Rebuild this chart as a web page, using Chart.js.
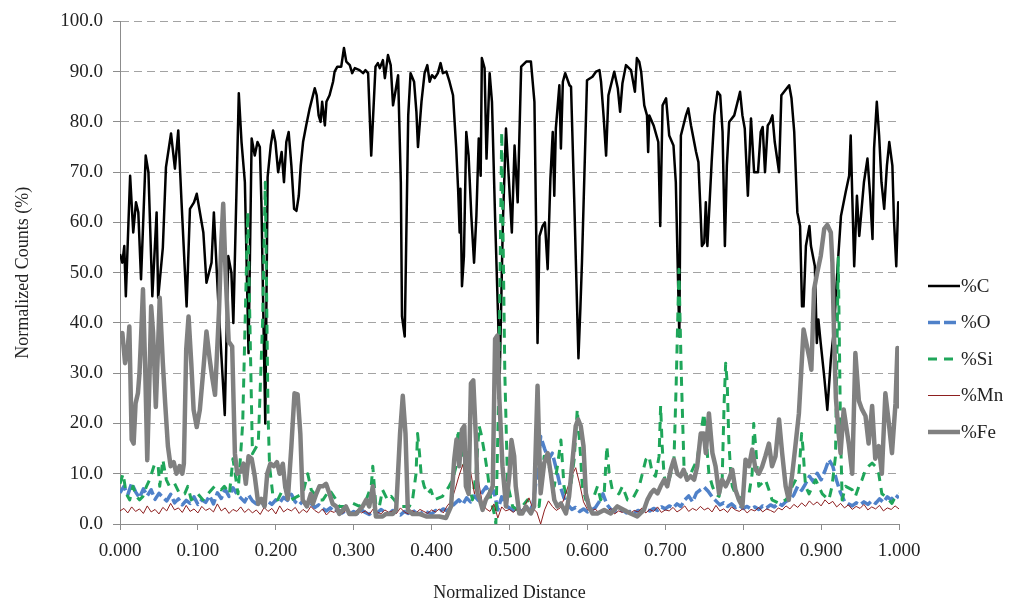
<!DOCTYPE html>
<html>
<head>
<meta charset="utf-8">
<title>Normalized Counts vs Normalized Distance</title>
<script src="https://cdn.jsdelivr.net/npm/chart.js@4.4.1/dist/chart.umd.min.js"></script>
<style>
  html, body { margin: 0; padding: 0; background: #fff; }
  canvas { display: block; }
</style>
</head>
<body>
<canvas id="profileChart" width="1034" height="606"></canvas>
<script>
// Line-scan composition profile: normalized counts of each element along the scan.

// %C
const cDist = [
  0, 0.003, 0.0055, 0.0075, 0.013, 0.017, 0.0205, 0.0235, 0.027, 0.033,
  0.0365, 0.0415, 0.047, 0.049, 0.055, 0.059, 0.0655, 0.0705, 0.0748, 0.079,
  0.0855, 0.0898, 0.095, 0.0985, 0.107, 0.111, 0.1175, 0.1205, 0.126, 0.1345,
  0.139, 0.143, 0.1455, 0.1525, 0.156, 0.1603, 0.165, 0.169, 0.173, 0.1765,
  0.1795, 0.1815, 0.1865, 0.1895, 0.1935, 0.1965, 0.1995, 0.203, 0.2075, 0.2105,
  0.2135, 0.2165, 0.22, 0.2235, 0.2265, 0.2295, 0.232, 0.235, 0.239, 0.2435,
  0.25, 0.2525, 0.255, 0.2575, 0.2595, 0.263, 0.265, 0.269, 0.2735, 0.2755,
  0.279, 0.284, 0.2875, 0.2905, 0.295, 0.298, 0.3015, 0.3075, 0.312, 0.315,
  0.3185, 0.3225, 0.328, 0.331, 0.3335, 0.3375, 0.34, 0.344, 0.3475, 0.3505,
  0.3535, 0.357, 0.3605, 0.362, 0.3655, 0.37, 0.373, 0.3775, 0.3805, 0.3825,
  0.387, 0.391, 0.3945, 0.3975, 0.4005, 0.404, 0.408, 0.4115, 0.4145, 0.419,
  0.423, 0.4275, 0.4315, 0.434, 0.436, 0.437, 0.439, 0.4415, 0.4445, 0.4475,
  0.451, 0.4545, 0.4575, 0.4605, 0.463, 0.4645, 0.468, 0.4705, 0.4745, 0.4775,
  0.4815, 0.4875, 0.4915, 0.4955, 0.503, 0.5065, 0.5105, 0.515, 0.5215, 0.5275,
  0.532, 0.534, 0.536, 0.5385, 0.5425, 0.5455, 0.549, 0.5525, 0.5555, 0.5575,
  0.5595, 0.564, 0.566, 0.5685, 0.5715, 0.577, 0.579, 0.583, 0.5885, 0.591,
  0.593, 0.5995, 0.6065, 0.611, 0.6155, 0.6175, 0.621, 0.624, 0.627, 0.6345,
  0.639, 0.642, 0.645, 0.6495, 0.656, 0.661, 0.6635, 0.6665, 0.669, 0.673,
  0.6765, 0.678, 0.6795, 0.685, 0.691, 0.6935, 0.6965, 0.701, 0.705, 0.7105,
  0.7135, 0.718, 0.72, 0.7265, 0.7295, 0.733, 0.7395, 0.7425, 0.745, 0.747,
  0.75, 0.752, 0.754, 0.7595, 0.763, 0.767, 0.7705, 0.7735, 0.7765, 0.779,
  0.782, 0.7885, 0.796, 0.799, 0.802, 0.806, 0.81, 0.814, 0.819, 0.8225,
  0.825, 0.828, 0.8315, 0.8345, 0.8375, 0.8405, 0.846, 0.849, 0.856, 0.859,
  0.862, 0.8655, 0.8695, 0.873, 0.8755, 0.8775, 0.8805, 0.885, 0.887, 0.892,
  0.8945, 0.8965, 0.8995, 0.904, 0.908, 0.9125, 0.9165, 0.921, 0.9255, 0.9315,
  0.936, 0.938, 0.94, 0.9425, 0.946, 0.949, 0.955, 0.9595, 0.963, 0.966,
  0.968, 0.9715, 0.9745, 0.9775, 0.981, 0.9845, 0.9875, 0.9915, 0.9935, 0.9965,
  0.999, 1.0
];
const cPct = [
  53.7, 52, 55.3, 45.3, 69.3, 58, 64, 62, 48.7, 73.3,
  70, 45.3, 62, 45, 55, 71, 77.7, 70.7, 78.3, 64,
  43.3, 62.7, 64, 65.7, 58, 48, 52, 62, 44.7, 21.7,
  53.3, 50, 40, 85.7, 76, 68, 34, 76.7, 73.3, 76,
  75, 64, 20, 69, 75.3, 78.3, 76, 70, 74, 68,
  76, 78, 71.3, 62.7, 62.3, 65.3, 71.3, 76, 79.3, 82.7,
  86.7, 85.3, 81.3, 80, 84, 79.3, 84, 85.3, 88, 90,
  91, 91, 94.7, 92, 91.3, 89.7, 90.7, 90.3, 89.7, 90.3,
  89.7, 73.3, 91, 91.7, 90.7, 92.3, 88.7, 93.3, 91.3, 83.3,
  86, 89.3, 68, 41.3, 37.3, 81.3, 89.7, 88, 82, 75,
  84, 89.7, 91.3, 88, 89.3, 88.7, 89.7, 91.7, 89.7, 90,
  88, 85.3, 75, 66.7, 58, 66.7, 47.3, 53.3, 78, 73.3,
  61.3, 52, 61.3, 76.7, 69.3, 92.7, 90.7, 72.7, 89.7, 84,
  61, 30, 60, 78.7, 58, 75.3, 64, 91, 92, 92,
  84, 61.3, 36, 57.3, 59.3, 60, 50.7, 68.7, 78, 65.3,
  78.7, 87.3, 74.7, 88, 89.7, 87.3, 87, 65, 33, 43,
  52, 88.3, 89, 90, 90.3, 88, 80.7, 73.3, 85.3, 90,
  86.7, 82, 87.7, 91.3, 90.3, 86, 92.7, 92, 90, 83.3,
  81.3, 74, 81.3, 79.3, 76, 59.3, 83.3, 84.7, 77.3, 75.3,
  68, 37.3, 77.3, 81.3, 82.7, 79.3, 74, 72, 63, 55.3,
  56, 64, 55.3, 72, 81.3, 86, 85.3, 78, 55.3, 71.3,
  80, 81.3, 86, 81.3, 78.7, 65.3, 80.7, 70, 70, 78,
  79, 70, 79.3, 80, 81.3, 76, 70, 85.3, 86.7, 87.3,
  84.7, 78, 62, 59.3, 43.3, 43.3, 55.3, 59.3, 55.3, 51.3,
  36, 40.7, 36, 29.3, 22.7, 32.7, 38.7, 50.7, 61.3, 66,
  69.3, 77.3, 65.3, 51.3, 65.3, 57.3, 68, 72.7, 65.3, 56.7,
  74.7, 84, 77.3, 68, 62.7, 71.3, 76, 71.3, 60.7, 51.3,
  64, 63
];

// %Fe
const feDist = [
  0, 0.003, 0.0065, 0.01, 0.012, 0.015, 0.0175, 0.02, 0.023, 0.025,
  0.027, 0.0295, 0.0325, 0.035, 0.038, 0.04, 0.0425, 0.046, 0.049, 0.051,
  0.055, 0.058, 0.0615, 0.065, 0.069, 0.0725, 0.0765, 0.08, 0.082, 0.085,
  0.088, 0.0915, 0.0945, 0.0985, 0.1025, 0.107, 0.111, 0.115, 0.1185, 0.122,
  0.127, 0.13, 0.1325, 0.1355, 0.1395, 0.144, 0.1475, 0.1505, 0.155, 0.1585,
  0.1615, 0.165, 0.169, 0.173, 0.1775, 0.1815, 0.1855, 0.189, 0.193, 0.1975,
  0.2015, 0.205, 0.209, 0.212, 0.2155, 0.22, 0.224, 0.228, 0.2315, 0.2345,
  0.24, 0.245, 0.2475, 0.252, 0.256, 0.2605, 0.2645, 0.269, 0.273, 0.2775,
  0.2815, 0.286, 0.29, 0.2945, 0.299, 0.303, 0.3075, 0.3115, 0.316, 0.32,
  0.3245, 0.3285, 0.333, 0.337, 0.3415, 0.346, 0.35, 0.3545, 0.3595, 0.363,
  0.3665, 0.3695, 0.3755, 0.3845, 0.393, 0.4015, 0.41, 0.4185, 0.425, 0.429,
  0.432, 0.4355, 0.439, 0.442, 0.444, 0.4475, 0.4505, 0.4535, 0.457, 0.459,
  0.462, 0.4655, 0.4695, 0.474, 0.4785, 0.4815, 0.4845, 0.487, 0.491, 0.4955,
  0.5, 0.5025, 0.506, 0.508, 0.5125, 0.5165, 0.521, 0.5275, 0.5315, 0.536,
  0.538, 0.54, 0.5445, 0.549, 0.553, 0.5575, 0.5615, 0.566, 0.5725, 0.5765,
  0.581, 0.585, 0.588, 0.5915, 0.595, 0.598, 0.602, 0.6065, 0.613, 0.6215,
  0.63, 0.6385, 0.647, 0.6555, 0.664, 0.6725, 0.677, 0.6815, 0.6855, 0.69,
  0.694, 0.6985, 0.7025, 0.707, 0.711, 0.7155, 0.7195, 0.7235, 0.728, 0.7325,
  0.737, 0.741, 0.7455, 0.7495, 0.752, 0.756, 0.7605, 0.7645, 0.769, 0.773,
  0.7775, 0.7815, 0.786, 0.79, 0.7945, 0.799, 0.803, 0.8075, 0.8115, 0.816,
  0.82, 0.8245, 0.8285, 0.833, 0.837, 0.8415, 0.846, 0.85, 0.8545, 0.8585,
  0.863, 0.867, 0.8715, 0.8775, 0.881, 0.885, 0.8875, 0.891, 0.895, 0.8995,
  0.904, 0.908, 0.9125, 0.9145, 0.9165, 0.919, 0.9225, 0.925, 0.929, 0.9355,
  0.94, 0.944, 0.9485, 0.9525, 0.957, 0.961, 0.9655, 0.9695, 0.974, 0.978,
  0.9825, 0.987, 0.991, 0.9955, 0.998, 1.0
];
const fePct = [
  37, 38, 32, 35, 39.3, 16.8, 16, 24, 26, 30,
  37, 46.7, 30, 12.7, 30, 43.3, 38, 23.3, 36, 45,
  32, 24, 15.5, 11.5, 12.3, 10, 11.5, 10, 12, 34.7,
  41.3, 32, 22.7, 19.3, 22.7, 30.7, 38.3, 33, 29, 25.7,
  42, 56, 63.7, 50, 36.3, 35.3, 14, 10, 10.5, 12,
  8, 13.5, 13, 9.5, 4, 5, 3.5, 10, 12, 11.5,
  12.3, 10, 12, 7.5, 5, 15.5, 26, 25.8, 18, 4.8,
  3.5, 6, 4, 6, 7.5, 7.5, 8, 6, 4, 3.5,
  2, 2.8, 3.5, 2, 2, 2, 2.8, 3.5, 4.8, 3.5,
  7.5, 1.5, 1.5, 1.5, 2, 2, 2, 2.8, 18, 25.5,
  18, 2.8, 2, 2, 1.5, 1.5, 1.5, 1.2, 3.5, 12.8,
  16.8, 11.5, 18.8, 19.5, 7.5, 6, 28, 28.6, 16.8, 6,
  4.8, 2.8, 4.8, 6, 7.5, 36.8, 37.5, 24.8, 11.5, 3.5,
  10, 16.7, 13.5, 7.5, 2.1, 2.1, 3.5, 2.1, 3.5, 27.5,
  16, 6.1, 12.1, 14.1, 10, 4.8, 3.5, 4.1, 2.1, 5.5,
  12.8, 19.5, 20.8, 19.5, 15.5, 6.1, 3.5, 2.1, 2.1, 2.8,
  2.1, 3.5, 2.8, 2.1, 1.5, 2.8, 4.8, 6.1, 6.8, 6.1,
  7.5, 8.8, 7.5, 10.8, 12.8, 10, 9.5, 10.8, 8.8, 9.5,
  8.8, 11.5, 18, 18, 14.1, 22, 14.1, 11.5, 6.1, 8.8,
  7.5, 8.8, 10.8, 6.8, 4.8, 3.5, 12.8, 11.5, 14.8, 10.8,
  10, 11.5, 13.5, 16, 11.5, 13.5, 20.8, 14.1, 7.5, 4.8,
  10, 15.5, 22, 38.7, 36, 33, 30.7, 46.7, 50, 53.3,
  58.7, 59.5, 58, 52, 38, 25, 18, 14.1, 22.8, 16,
  10, 34, 24.5, 22.8, 21.5, 16, 23.5, 13, 15.5, 10,
  26, 20, 14.1, 24, 35, 23
];

// %Si
const siDist = [
  0, 0.004, 0.008, 0.0125, 0.0165, 0.021, 0.025, 0.0295, 0.034, 0.038,
  0.0445, 0.049, 0.051, 0.055, 0.0595, 0.0635, 0.07, 0.0765, 0.083, 0.087,
  0.0915, 0.1, 0.1065, 0.113, 0.1215, 0.13, 0.134, 0.1405, 0.145, 0.1515,
  0.1575, 0.164, 0.17, 0.1775, 0.183, 0.1865, 0.19, 0.192, 0.196, 0.2025,
  0.211, 0.2195, 0.228, 0.2345, 0.241, 0.2455, 0.256, 0.2605, 0.269, 0.2775,
  0.2815, 0.29, 0.299, 0.3075, 0.316, 0.3225, 0.3245, 0.3285, 0.333, 0.337,
  0.3435, 0.348, 0.352, 0.3585, 0.3715, 0.3755, 0.38, 0.382, 0.3845, 0.3865,
  0.3905, 0.395, 0.399, 0.4035, 0.414, 0.4225, 0.427, 0.4315, 0.434, 0.4355,
  0.44, 0.444, 0.4485, 0.4525, 0.457, 0.461, 0.4635, 0.4675, 0.472, 0.476,
  0.4805, 0.4825, 0.486, 0.49, 0.494, 0.4975, 0.504, 0.5105, 0.5165, 0.523,
  0.5275, 0.5315, 0.538, 0.5445, 0.549, 0.553, 0.5575, 0.5615, 0.566, 0.57,
  0.5745, 0.5785, 0.583, 0.587, 0.5915, 0.5935, 0.598, 0.6085, 0.613, 0.617,
  0.6215, 0.625, 0.628, 0.632, 0.6405, 0.645, 0.6515, 0.6575, 0.6665, 0.6705,
  0.675, 0.679, 0.6835, 0.6875, 0.692, 0.694, 0.696, 0.6985, 0.7025, 0.707,
  0.711, 0.714, 0.7175, 0.7205, 0.724, 0.7285, 0.7325, 0.737, 0.741, 0.7455,
  0.7495, 0.752, 0.756, 0.7605, 0.7645, 0.769, 0.773, 0.7755, 0.7775, 0.7795,
  0.7815, 0.784, 0.786, 0.79, 0.7945, 0.799, 0.8075, 0.8115, 0.8135, 0.816,
  0.818, 0.82, 0.8285, 0.833, 0.837, 0.846, 0.8545, 0.8585, 0.863, 0.8715,
  0.875, 0.8765, 0.88, 0.8845, 0.893, 0.9015, 0.91, 0.914, 0.9185, 0.922,
  0.925, 0.927, 0.9315, 0.94, 0.944, 0.9485, 0.9525, 0.957, 0.961, 0.9655,
  0.9695, 0.974, 0.978, 0.9825, 0.987, 0.991, 0.9955, 1.0
];
const siPct = [
  8, 10, 6, 4.8, 7.5, 5.5, 4.8, 5.5, 7.5, 8.8,
  12, 11.5, 7.5, 12.8, 8.8, 7.5, 8.1, 6, 6, 7.5,
  4.8, 6, 4.8, 6, 7.5, 6.8, 7.5, 6, 13, 6,
  20, 62, 14, 16, 40, 68, 22, 11.5, 6, 4.8,
  7.5, 4.8, 5.5, 6, 10, 6.8, 4.8, 4.8, 6.8, 4.8,
  3.5, 3.5, 4.1, 3.5, 4.8, 7.5, 11.5, 3.5, 3.5, 6.8,
  4.8, 5.5, 4.8, 3.5, 3.5, 4.8, 10, 18, 14, 10,
  7.5, 6, 6.8, 4.8, 5.5, 7.5, 8.8, 11.5, 18.8, 16.8,
  12.8, 10, 7.5, 4.8, 10, 19.5, 18, 14.5, 10, 4.8,
  2, 0, 25, 78, 30, 8, 3.5, 2.8, 3.5, 4.8,
  2.1, 3.5, 3.5, 13.5, 12.8, 10, 7.5, 11.5, 16.7, 7.5,
  4.8, 7.5, 12.8, 22.8, 12.8, 7.5, 4.8, 5.5, 7.5, 4.8,
  6, 15.5, 10, 6.8, 6, 7.5, 4.8, 4.8, 7.5, 10,
  12.8, 13.5, 10, 9.5, 13.5, 23.5, 15.5, 9.5, 7.5, 10,
  12, 28, 50.7, 30, 11.5, 8.8, 10, 11.5, 12.8, 18,
  22, 18, 10, 7.5, 6, 5.5, 8.8, 24, 32, 28,
  16.8, 10, 7.5, 6, 4.8, 5.5, 6, 10, 20, 15.5,
  10.8, 7.5, 8.8, 6.8, 4.8, 4.1, 4.8, 5.5, 7.5, 10,
  18, 15.5, 7.5, 6, 8.8, 6, 4.8, 7.5, 13.5, 53,
  18, 4.8, 7.5, 6.8, 5.5, 7.5, 8.8, 10.8, 11.5, 12.1,
  11.5, 10, 6, 5.5, 4.8, 4.1, 5.5, 6
];

// %O and %Mn, sampled every 0.005 of the scan
const oPct = [
  6.2, 7.5, 5.8, 8.1, 6.4, 5.2, 7.0, 5.6, 6.8, 4.9, 6.1,
  5.3, 4.6, 5.9, 4.2, 5.0, 3.8, 4.7, 4.1, 5.4, 3.9,
  4.8, 4.3, 5.6, 4.0, 6.2, 5.1, 6.9, 5.5, 7.2, 6.0,
  5.2, 4.4, 5.8, 4.6, 4.0, 4.9, 3.6, 4.5, 3.9, 4.8,
  4.2, 5.3, 4.7, 5.9, 4.4, 3.8, 4.6, 3.5, 4.1, 3.3,
  3.8, 3.1, 2.6, 3.2, 2.4, 2.9, 2.2, 2.7, 2.0, 2.5,
  2.1, 2.8, 2.3, 1.9, 2.6, 2.2, 2.9, 2.4, 2.0, 2.7,
  2.3, 1.8, 2.5, 2.1, 2.8, 2.2, 1.9, 2.6, 2.3, 2.0,
  2.7, 2.4, 3.0, 2.6, 3.4, 4.1, 4.8, 3.9, 5.2, 4.4,
  5.6, 4.7, 6.3, 7.4, 5.9, 6.6, 2.8, 5.4, 3.6, 3.2,
  2.7, 3.3, 2.5, 3.0, 2.4, 3.8, 9.5, 17.4, 15.0, 12.8,
  14.1, 11.0, 7.6, 5.2, 3.8, 2.9, 3.3, 2.5, 3.0, 2.4,
  2.8, 3.2, 4.4, 6.0, 3.9, 2.9, 2.6, 2.3, 2.8, 2.2,
  2.5, 2.1, 2.7, 2.4, 2.9, 2.6, 3.1, 2.7, 3.4, 3.0,
  3.6, 3.2, 4.0, 3.5, 4.8, 5.6, 4.4, 6.2, 6.8, 7.3,
  6.5, 5.4, 4.6, 3.8, 4.2, 3.5, 4.0, 3.3, 3.7, 3.1,
  3.5, 3.0, 3.4, 2.9, 3.6, 3.2, 3.8, 3.4, 4.1, 3.7,
  4.5, 4.9, 5.8, 7.5, 6.7, 8.0, 9.5, 8.4, 10.1, 8.8,
  10.6, 12.8, 11.5, 8.6, 6.2, 4.5, 4.0, 3.6, 4.2, 3.8,
  4.4, 3.9, 4.6, 4.1, 5.0, 4.3, 5.4, 4.8, 5.8, 5.2
];
const mnPct = [
  2.6, 3.1, 2.2, 3.4, 2.5, 3.0, 2.1, 3.6, 2.4, 2.9, 2.0,
  3.3, 2.6, 4.1, 2.8, 3.2, 2.3, 3.7, 2.5, 3.0, 2.2,
  3.5, 2.7, 3.1, 2.4, 4.0, 2.6, 3.2, 2.1, 2.9, 2.5,
  3.4, 2.3, 3.0, 2.2, 2.8, 1.9, 3.3, 2.5, 3.1, 2.0,
  3.6, 2.4, 3.0, 2.6, 3.3, 2.1, 2.9, 2.3, 3.5, 2.7,
  2.2, 3.0, 1.8, 2.6, 2.3, 3.1, 2.0, 2.7, 2.4, 2.1,
  2.9, 2.2, 2.6, 1.9, 3.0, 2.4, 2.0, 2.8, 2.3, 2.6,
  2.1, 3.2, 2.4, 2.0, 2.7, 2.2, 2.9, 2.5, 2.1, 2.8,
  2.4, 3.0, 2.2, 3.6, 4.5, 6.8, 9.5, 11.8, 8.2, 10.5,
  6.0, 8.8, 4.2, 3.0, 2.5, 4.0, 1.2, 3.4, 2.6, 2.9,
  2.3, 3.1, 2.5, 3.8, 5.2, 3.0, 2.4, 0.0, 2.8, 4.6,
  3.5, 2.7, 3.2, 5.0, 7.4, 9.6, 11.2, 8.0, 4.4, 2.9,
  2.5, 3.0, 2.2, 2.8, 2.4, 3.1, 2.0, 2.6, 2.3, 2.9,
  2.1, 2.7, 2.4, 3.2, 2.2, 2.9, 2.5, 3.4, 2.3, 2.8,
  2.6, 3.3, 2.4, 2.9, 3.6, 2.5, 3.1, 2.7, 3.5, 2.8,
  3.2, 2.4, 3.7, 2.6, 3.0, 2.3, 3.4, 2.8, 2.5, 3.1,
  2.2, 2.9, 2.6, 3.3, 2.4, 3.0, 2.7, 2.3, 3.2, 2.8,
  3.6, 3.0, 3.9, 3.3, 4.2, 3.5, 4.6, 3.8, 4.4, 3.6,
  4.8, 4.0, 4.5, 3.4, 4.1, 3.2, 3.8, 2.9, 3.5, 3.1,
  3.9, 2.8, 3.4, 3.0, 3.7, 2.6, 3.2, 2.9, 3.6, 3.0
];
const sampleStep = 0.005;
const sampleDist = oPct.map((_, i) => +(i * sampleStep).toFixed(3));

const distTicks = [0, 0.1, 0.2, 0.3, 0.4, 0.5, 0.6, 0.7, 0.8, 0.9, 1.0];

function toPoints(xs, ys) {
  return xs.map((x, i) => ({ x: x, y: ys[i] }));
}

const serif = "'Liberation Serif', 'Times New Roman', serif";
const textColor = "#222";

// key drawn to the right of the plot, one row per series
const seriesKey = {
  id: "seriesKey",
  afterDraw(chart, args, opts) {
    const { ctx, chartArea } = chart;
    const x0 = chartArea.right + opts.offsetX;
    chart.data.datasets.forEach((ds, i) => {
      const y = opts.top + i * opts.rowGap;
      ctx.save();
      ctx.strokeStyle = ds.borderColor;
      ctx.lineWidth = ds.borderWidth;
      ctx.setLineDash(ds.borderDash || []);
      ctx.beginPath();
      ctx.moveTo(x0, y);
      ctx.lineTo(x0 + opts.lineLength, y);
      ctx.stroke();
      ctx.setLineDash([]);
      ctx.fillStyle = textColor;
      ctx.font = `${opts.fontSize}px ${serif}`;
      ctx.textBaseline = "middle";
      ctx.textAlign = "left";
      ctx.fillText(ds.label, x0 + opts.lineLength + 1, y + 1);
      ctx.restore();
    });
  },
};

const ctx = document.getElementById("profileChart").getContext("2d");

new Chart(ctx, {
  type: "line",
  data: {
    datasets: [
      { label: "%C", data: toPoints(cDist, cPct), borderColor: "#000000", borderWidth: 2.5, order: 5 },
      { label: "%O", data: toPoints(sampleDist, oPct), borderColor: "#4f81c9", borderWidth: 3.5, borderDash: [12, 4], order: 4 },
      { label: "%Si", data: toPoints(siDist, siPct), borderColor: "#1fa65a", borderWidth: 3, borderDash: [9, 7], order: 3 },
      { label: "%Mn", data: toPoints(sampleDist, mnPct), borderColor: "#8e1f1f", borderWidth: 1, order: 2 },
      { label: "%Fe", data: toPoints(feDist, fePct), borderColor: "#808080", borderWidth: 4.5, order: 1 },
    ],
  },
  options: {
    responsive: false,
    animation: false,
    events: [],
    layout: { padding: { top: 21, right: 135, bottom: 0, left: 0 } },
    elements: {
      point: { radius: 0 },
      line: { tension: 0, fill: false, borderJoinStyle: "round" },
    },
    plugins: {
      legend: { display: false },
      tooltip: { enabled: false },
      seriesKey: { offsetX: 29, lineLength: 32, top: 286, rowGap: 36.5, fontSize: 19 },
    },
    scales: {
      x: {
        type: "linear",
        min: 0,
        max: 1,
        afterBuildTicks: (scale) => {
          scale.ticks = distTicks.map((v) => ({ value: v }));
        },
        afterFit: (scale) => {
          scale.height = 82;
        },
        ticks: {
          callback: (v) => Number(v).toFixed(3),
          font: { family: serif, size: 19 },
          color: textColor,
          padding: 10,
          maxRotation: 0,
        },
        grid: { drawOnChartArea: false, drawTicks: true, tickLength: 6, color: "#8c8c8c" },
        border: { color: "#8c8c8c", width: 1 },
        title: {
          display: true,
          text: "Normalized Distance",
          font: { family: serif, size: 18 },
          color: textColor,
          padding: { top: 0, bottom: 2 },
        },
      },
      y: {
        min: 0,
        max: 100,
        afterFit: (scale) => {
          scale.width = 120;
        },
        ticks: {
          stepSize: 10,
          callback: (v) => Number(v).toFixed(1),
          font: { family: serif, size: 19 },
          color: textColor,
          padding: 10,
        },
        grid: { color: "#a3a3a3", tickLength: 7, tickColor: "#8c8c8c", tickBorderDash: [] },
        border: { color: "#8c8c8c", width: 1, dash: [8, 5] },
        title: {
          display: true,
          text: "Normalized Counts (%)",
          font: { family: serif, size: 18 },
          color: textColor,
          padding: { top: 12, bottom: 0 },
        },
      },
    },
  },
  plugins: [seriesKey],
});
</script>
</body>
</html>
